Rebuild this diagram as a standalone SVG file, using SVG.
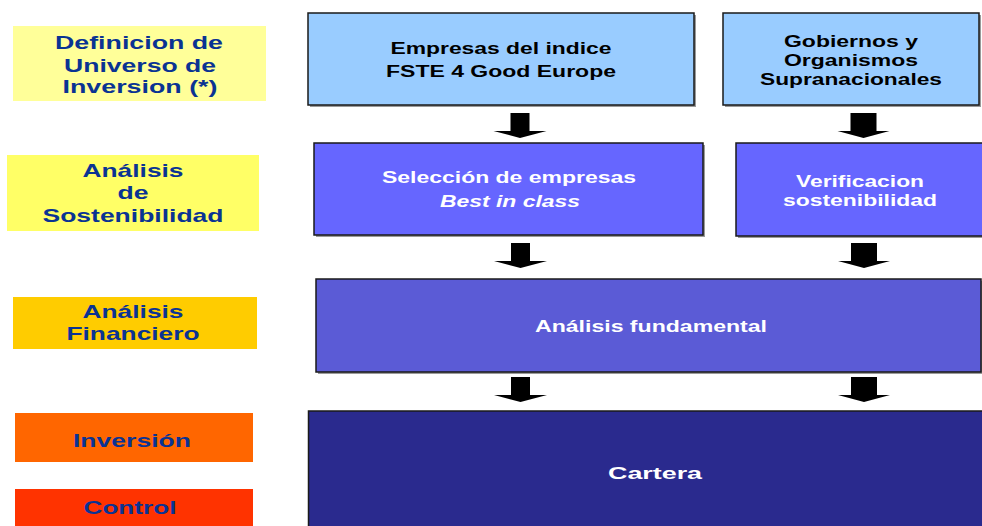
<svg xmlns="http://www.w3.org/2000/svg" xmlns:xlink="http://www.w3.org/1999/xlink" width="982" height="526" viewBox="0 0 982 526">
<style>
  .lbl { font-family: "Liberation Sans", Arial, sans-serif; font-weight: bold; font-size: 19px; fill: #0A3393; text-anchor: middle; }
  .box { stroke: #1a1a1a; stroke-width: 1.5; }
  .shadow { fill: #9a9a9a; }
  .tb { font-family: "Liberation Sans", Arial, sans-serif; font-weight: bold; font-size: 16px; fill: #000; text-anchor: middle; }
  .tw { font-family: "Liberation Sans", Arial, sans-serif; font-weight: bold; font-size: 16px; fill: #fff; text-anchor: middle; }
  .arrow { fill: #000; }
</style>
<defs>
  <polygon id="arrN" points="-9.5,0 9.5,0 9.5,18 26.5,18 0,25 -26.5,18 -9.5,18"/>
  <polygon id="arrW" points="-13,0 13,0 13,18 26,18 0,25 -26,18 -13,18"/>
</defs>
<rect width="982" height="526" fill="#fff"/>

<g id="label-universo">
  <rect x="13" y="26" width="253" height="75" fill="#FFFF99"/>
  <text class="lbl" x="139" y="49" textLength="168" lengthAdjust="spacingAndGlyphs">Definicion de</text>
  <text class="lbl" x="140" y="72" textLength="152" lengthAdjust="spacingAndGlyphs">Universo de</text>
  <text class="lbl" x="140" y="93" textLength="155" lengthAdjust="spacingAndGlyphs">Inversion (*)</text>
</g>
<g id="label-sostenibilidad">
  <rect x="7" y="155" width="252" height="76" fill="#FFFF66"/>
  <text class="lbl" x="133" y="177" textLength="101" lengthAdjust="spacingAndGlyphs">Análisis</text>
  <text class="lbl" x="133" y="199" textLength="31" lengthAdjust="spacingAndGlyphs">de</text>
  <text class="lbl" x="133" y="222" textLength="181" lengthAdjust="spacingAndGlyphs">Sostenibilidad</text>
</g>
<g id="label-financiero">
  <rect x="13" y="297" width="244" height="52" fill="#FFCC00"/>
  <text class="lbl" x="133" y="318" textLength="101" lengthAdjust="spacingAndGlyphs">Análisis</text>
  <text class="lbl" x="133" y="340" textLength="133" lengthAdjust="spacingAndGlyphs">Financiero</text>
</g>
<g id="label-inversion">
  <rect x="15" y="413" width="238" height="49" fill="#FF6600"/>
  <text class="lbl" x="132" y="447" textLength="118" lengthAdjust="spacingAndGlyphs">Inversión</text>
</g>
<g id="label-control">
  <rect x="15" y="489" width="238" height="40" fill="#FF3300"/>
  <text class="lbl" x="130" y="514" textLength="93" lengthAdjust="spacingAndGlyphs">Control</text>
</g>

<g id="node-empresas">
  <rect class="shadow" x="310" y="15" width="386" height="92"/>
  <rect class="box" x="308" y="13" width="386" height="92" fill="#99CCFF"/>
  <text class="tb" x="501" y="54" textLength="221" lengthAdjust="spacingAndGlyphs">Empresas del indice</text>
  <text class="tb" x="501" y="77" textLength="230" lengthAdjust="spacingAndGlyphs">FSTE 4 Good Europe</text>
</g>
<g id="node-gobiernos">
  <rect class="shadow" x="725" y="15" width="256" height="92"/>
  <rect class="box" x="723" y="13" width="256" height="92" fill="#99CCFF"/>
  <text class="tb" x="851" y="47" textLength="134" lengthAdjust="spacingAndGlyphs">Gobiernos y</text>
  <text class="tb" x="851" y="66" textLength="134" lengthAdjust="spacingAndGlyphs">Organismos</text>
  <text class="tb" x="851" y="85" textLength="182" lengthAdjust="spacingAndGlyphs">Supranacionales</text>
</g>
<g id="node-seleccion">
  <rect class="shadow" x="316" y="145" width="389" height="92"/>
  <rect class="box" x="314" y="143" width="389" height="92" fill="#6666FF"/>
  <text class="tw" x="509" y="183" textLength="254" lengthAdjust="spacingAndGlyphs">Selección de empresas</text>
  <text class="tw" x="510" y="207" font-style="italic" textLength="140" lengthAdjust="spacingAndGlyphs">Best in class</text>
</g>
<g id="node-verificacion">
  <rect class="shadow" x="738" y="145" width="246" height="93"/>
  <rect class="box" x="736" y="143" width="248" height="93" fill="#6666FF"/>
  <text class="tw" x="860" y="187" textLength="128" lengthAdjust="spacingAndGlyphs">Verificacion</text>
  <text class="tw" x="860" y="206" textLength="154" lengthAdjust="spacingAndGlyphs">sostenibilidad</text>
</g>
<g id="node-fundamental">
  <rect class="shadow" x="318" y="281" width="666" height="93"/>
  <rect class="box" x="316" y="279" width="665" height="93" fill="#5B5BD6"/>
  <text class="tw" x="651" y="332" font-size="17" textLength="232" lengthAdjust="spacingAndGlyphs">Análisis fundamental</text>
</g>
<g id="node-cartera">
  <rect class="shadow" x="310" y="413" width="674" height="116"/>
  <rect class="box" x="308.5" y="411" width="675" height="118" fill="#2A2A8E"/>
  <text class="tw" x="655" y="479" font-size="19" textLength="94" lengthAdjust="spacingAndGlyphs">Cartera</text>
</g>

<g id="connectors" class="arrow">
  <use xlink:href="#arrN" x="520" y="113"/>
  <use xlink:href="#arrW" x="863.5" y="113"/>
  <use xlink:href="#arrN" x="520.5" y="243"/>
  <use xlink:href="#arrW" x="864" y="243"/>
  <use xlink:href="#arrN" x="520.5" y="377"/>
  <use xlink:href="#arrW" x="864" y="377"/>
</g>
</svg>
